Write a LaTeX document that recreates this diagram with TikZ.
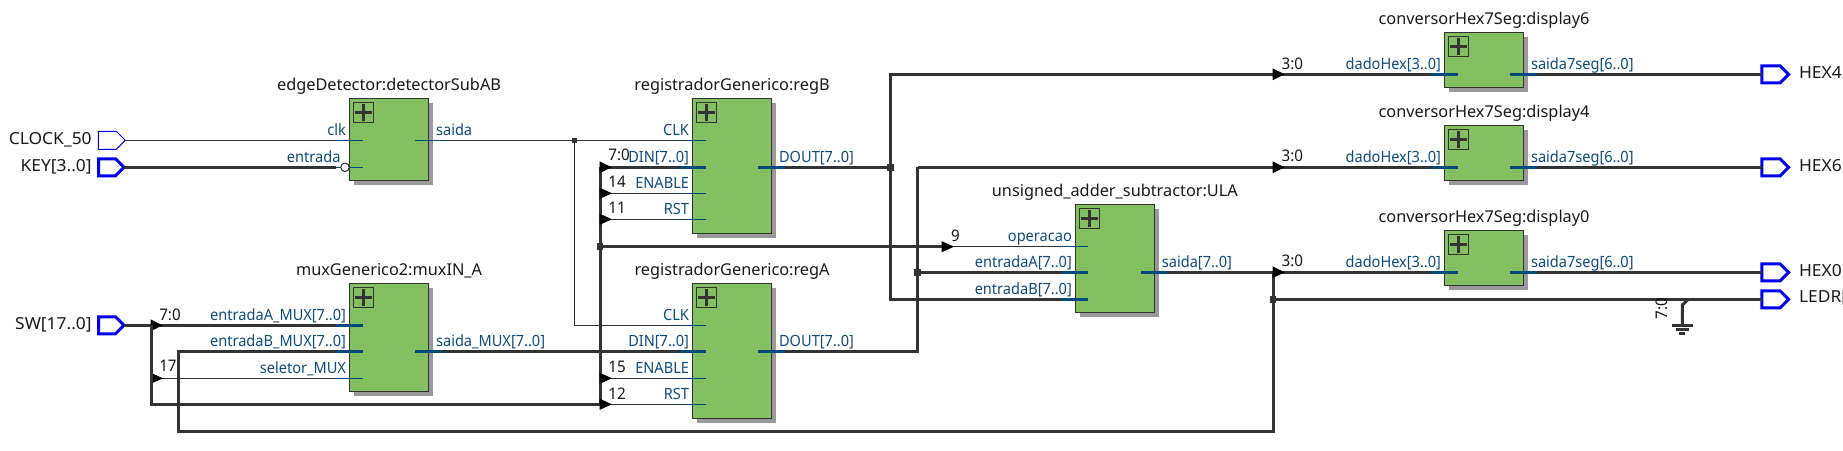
\documentclass[tikz,border=0pt]{standalone}
\usepackage{fontspec}
\setmainfont{Noto Sans}
\newfontfamily\portfont[FakeStretch=0.94]{Noto Sans}
\newfontfamily\bitfont[FakeStretch=0.95]{Noto Sans}
\newfontfamily\pinfont[FakeStretch=1.05]{Noto Sans}
\usetikzlibrary{positioning}
\usetikzlibrary{arrows.meta}
\usetikzlibrary{decorations.markings}
\usetikzlibrary{shapes.symbols}
\usetikzlibrary{shadows}
\definecolor{wirecol}{HTML}{333333}
\definecolor{stubcol}{HTML}{004A7C}
\definecolor{labelcol}{HTML}{0F4C7F}
\definecolor{blockcol}{HTML}{84C062}
\definecolor{pincol}{HTML}{0000F0}
\tikzstyle{block}=[draw=wirecol, fill=blockcol, line width=1pt, anchor=north west, minimum width=79.1pt, drop shadow={shadow xshift=4.5pt, shadow yshift=-4.5pt, fill=black!40, opacity=1}]
\tikzstyle{plusbox}=[draw=wirecol, line width=1pt, minimum size=20pt, path picture={\draw[wirecol, line width=3.2pt] (path picture bounding box.center) +(-8.5pt,0) -- +(8.5pt,0) +(0,-8.5pt) -- +(0,8.5pt);}]
\tikzstyle{inpin}=[shape=signal, draw=pincol, line width=3pt, minimum width=25.5pt, minimum height=17pt, anchor=east]
\tikzstyle{outpin}=[shape=signal, draw=pincol, line width=3pt, minimum width=26.8pt, minimum height=17pt, anchor=west]
\tikzstyle{clkpin}=[shape=signal, draw=pincol, line width=1pt, minimum width=27pt, minimum height=18pt, anchor=east]
\tikzstyle{bus}=[draw=wirecol, line width=3pt]
\tikzstyle{net}=[draw=wirecol, line width=1pt]
\tikzstyle{busstub}=[draw=stubcol, line width=3pt]
\tikzstyle{netstub}=[draw=stubcol, line width=1pt]
\tikzstyle{dot}=[fill=wirecol, minimum size=6.6pt]
\tikzstyle{smalldot}=[fill=wirecol, minimum size=4.6pt]
\tikzstyle{tipped}=[postaction={decorate}, decoration={markings, mark=at position 12pt with {\arrow[black]{Triangle[length=12.5pt 0 0, width=11pt 0 0]}}}]
\tikzstyle{title}=[text=black!90, font=\fontsize{16.3}{16.3}\selectfont]
\tikzstyle{portlab}=[text=labelcol, font=\portfont\fontsize{15.5}{15.5}\selectfont]
\tikzstyle{bit}=[text=black!90, font=\bitfont\fontsize{16}{16}\selectfont, anchor=base west]
\tikzstyle{pinlab}=[text=black!90, font=\pinfont\fontsize{16.6}{16.6}\selectfont]

\begin{document}
\begin{tikzpicture}[x=1pt, y=-1pt, inner sep=0pt, outer sep=0pt, text depth=0pt]
	\useasboundingbox (0,0) rectangle (1843,450);
	
	\node (detector) [block, minimum height=82pt] at (349.5,98.3) {};
	\node (muxA) [block, minimum height=108.4pt] at (349.5,283.3) {};
	\node (regB) [block, minimum height=135pt] at (692.5,98.3) {};
	\node (regA) [block, minimum height=135pt] at (692.5,283.3) {};
	\node (ula) [block, minimum height=108pt] at (1075.3,204.3) {};
	\node (disp6) [block, minimum height=55.4pt] at (1444.5,32.3) {};
	\node (disp4) [block, minimum height=55pt] at (1444.5,125.3) {};
	\node (disp0) [block, minimum height=55.4pt] at (1444.5,230.3) {};
	%
	\node (detectorplus) [plusbox, below right=4.5pt and 4.3pt of detector.north west] {};
	\node (muxAplus) [plusbox, below right=4.5pt and 4.3pt of muxA.north west] {};
	\node (regBplus) [plusbox, below right=4.5pt and 4.3pt of regB.north west] {};
	\node (regAplus) [plusbox, below right=4.5pt and 4.3pt of regA.north west] {};
	\node (ulaplus) [plusbox, below right=4.5pt and 4.3pt of ula.north west] {};
	\node (disp6plus) [plusbox, below right=4.5pt and 4.3pt of disp6.north west] {};
	\node (disp4plus) [plusbox, below right=4.5pt and 4.3pt of disp4.north west] {};
	\node (disp0plus) [plusbox, below right=4.5pt and 4.3pt of disp0.north west] {};
	
	\node (detectortitle) [title, above=8pt of detector] {edgeDetector:detectorSubAB};
	\node (muxAtitle) [title, above=8pt of muxA] {muxGenerico2:muxIN\_A};
	\node (regBtitle) [title, above=8pt of regB] {registradorGenerico:regB};
	\node (regAtitle) [title, above=8pt of regA] {registradorGenerico:regA};
	\node (ulatitle) [title, above=8pt of ula] {unsigned\_adder\_subtractor:ULA};
	\node (disp6title) [title, above=8pt of disp6] {conversorHex7Seg:display6};
	\node (disp4title) [title, above=8pt of disp4] {conversorHex7Seg:display4};
	\node (disp0title) [title, above=8pt of disp0] {conversorHex7Seg:display0};
	
	\coordinate (detclk) at (349.5,140.3);
	\coordinate (detent) at (349.5,167.3);
	\coordinate (detout) at (428.6,140.3);
	\coordinate (muxa) at (349.5,325.3);
	\coordinate (muxb) at (349.5,351.3);
	\coordinate (muxsel) at (349.5,378.3);
	\coordinate (muxout) at (428.6,351.3);
	\coordinate (regBclk) at (692.5,140.3);
	\coordinate (regBdin) at (692.5,167.3);
	\coordinate (regBen) at (692.5,193.3);
	\coordinate (regBrst) at (692.5,219.3);
	\coordinate (regBout) at (771.6,167.3);
	\coordinate (regAclk) at (692.5,325.3);
	\coordinate (regAdin) at (692.5,351.3);
	\coordinate (regAen) at (692.5,378.3);
	\coordinate (regArst) at (692.5,404.3);
	\coordinate (regAout) at (771.6,351.3);
	\coordinate (ulaop) at (1075.3,246.7);
	\coordinate (ulaa) at (1075.3,272.3);
	\coordinate (ulab) at (1075.3,299.3);
	\coordinate (ulaout) at (1154.4,272.3);
	\coordinate (d6in) at (1444.5,74.3);
	\coordinate (d6out) at (1523.5,74.3);
	\coordinate (d4in) at (1444.5,167.3);
	\coordinate (d4out) at (1523.5,167.3);
	\coordinate (d0in) at (1444.5,272.3);
	\coordinate (d0out) at (1523.5,272.3);
	%
	\coordinate (swbus) at (151,325.3);
	\coordinate (regbus) at (600,404.3);
	\coordinate (regtop) at (600,167.3);
	\coordinate (ulatap) at (942,246.7);
	\coordinate (d6tap) at (1273,74.3);
	\coordinate (d4tap) at (1273,167.3);
	\coordinate (d4corner) at (917.5,167.3);
	\coordinate (ulabus) at (1273,272.3);
	\coordinate (fbcorner) at (178.7,431);
	\coordinate (gndtap) at (1688.3,299.3);
	\coordinate (gndbend) at (1682.3,305);
	\coordinate (gndbar) at (1682.3,325);
	
	\node (clockpin) [clkpin] at (125.3,140.3) {};
	\node (keypin) [inpin] at (124,167.3) {};
	\node (swpin) [inpin] at (124,325.3) {};
	\node (hex4pin) [outpin] at (1761.8,74.3) {};
	\node (hex6pin) [outpin] at (1761.8,167.3) {};
	\node (hex0pin) [outpin] at (1761.8,272.3) {};
	\node (ledrpin) [outpin] at (1761.8,299.3) {};
	
	\node (clockj) [smalldot] at (574.5,140.3) {};
	\node (busj) [dot] at (600,246.7) {};
	\node (regBj) [dot] at (890.6,167.3) {};
	\node (regAj) [dot] at (917.5,272.3) {};
	\node (ledrj) [dot] at (1273,299.3) {};
	
	\draw[net] (clockpin.east) -- (detclk);
	\draw[bus, shorten >=9pt] (keypin.east) -- (345,167.3);
	\draw[net] (detout) -- (clockj);
	\draw[net] (clockj) -- (regBclk);
	\draw[net] (clockj) |- (regAclk);
	%
	\draw[bus] (swpin.east) -- (swbus);
	\draw[bus, tipped] (swbus) -- (muxa);
	\draw[net, tipped] (swbus |- muxsel) -- (muxsel);
	\draw[bus] (swbus) |- (regbus);
	\draw[bus] (regbus) -- (regtop);
	\draw[bus, tipped] (regtop) -- (regBdin);
	\draw[net, tipped] (regbus |- regBen) -- (regBen);
	\draw[net, tipped] (regbus |- regBrst) -- (regBrst);
	\draw[net, tipped] (regbus |- regAen) -- (regAen);
	\draw[net, tipped] (regbus) -- (regArst);
	\draw[bus] (busj) -- (ulatap);
	\draw[net, tipped] (ulatap) -- (ulaop);
	%
	\draw[bus] (muxout) -- (regAdin);
	\draw[bus] (muxb) -| (fbcorner) -| (ulabus);
	\draw[bus] (regBout) -- (regBj);
	\draw[bus] (regBj) |- (d6tap);
	\draw[bus] (regBj) |- (ulab);
	\draw[bus, tipped] (d6tap) -- (d6in);
	\draw[bus] (regAout) -| (d4corner);
	\draw[bus] (d4corner) -- (d4tap);
	\draw[bus, tipped] (d4tap) -- (d4in);
	\draw[bus] (regAj) -- (ulaa);
	\draw[bus] (ulaout) -- (ulabus);
	\draw[bus, tipped] (ulabus) -- (d0in);
	%
	\draw[bus] (d6out) -- (hex4pin.west);
	\draw[bus] (d4out) -- (hex6pin.west);
	\draw[bus] (d0out) -- (hex0pin.west);
	\draw[bus] (ledrj) -- (ledrpin.west);
	%
	\draw[netstub] (detclk) +(-13.5,0) -- +(13,0) (detent) +(-13.5,0) -- +(13,0) (detout) +(-13.5,0) -- +(13,0);
	\draw[netstub] (muxsel) +(-13.5,0) -- +(13,0);
	\draw[netstub] (regBclk) +(-13.5,0) -- +(13,0) (regBen) +(-13.5,0) -- +(13,0) (regBrst) +(-13.5,0) -- +(13,0);
	\draw[netstub] (regAclk) +(-13.5,0) -- +(13,0) (regAen) +(-13.5,0) -- +(13,0) (regArst) +(-13.5,0) -- +(13,0);
	\draw[netstub] (ulaop) +(-13.5,0) -- +(13,0);
	\draw[busstub] (muxa) +(-13.5,0) -- +(13,0) (muxb) +(-13.5,0) -- +(13,0) (muxout) +(-13.5,0) -- +(13,0);
	\draw[busstub] (regBdin) +(-13.5,0) -- +(13,0) (regBout) +(-13.5,0) -- +(13,0);
	\draw[busstub] (regAdin) +(-13.5,0) -- +(13,0) (regAout) +(-13.5,0) -- +(13,0);
	\draw[busstub] (ulaa) +(-13.5,0) -- +(13,0) (ulab) +(-13.5,0) -- +(13,0) (ulaout) +(-13.5,0) -- +(13,0);
	\draw[busstub] (d6in) +(-13.5,0) -- +(13,0) (d6out) +(-13.5,0) -- +(13,0);
	\draw[busstub] (d4in) +(-13.5,0) -- +(13,0) (d4out) +(-13.5,0) -- +(13,0);
	\draw[busstub] (d0in) +(-13.5,0) -- +(13,0) (d0out) +(-13.5,0) -- +(13,0);
	%
	\node (keybub) [draw=wirecol, fill=white, circle, line width=1pt, minimum size=8.5pt] at (345,167.3) {};
	
	\draw[bus] (gndtap) -- (gndbend) -- (gndbar);
	\draw[bus] (gndbar) +(-10.8,0) -- +(10.8,0);
	\draw[bus] (gndbar) ++(0,4.7) +(-6.3,0) -- +(6.3,0);
	\draw[bus] (gndbar) ++(0,8.7) +(-3,0) -- +(3,0);
	
	\node (detclklab) [portlab, above left=4.8pt and 3.5pt of detclk] {clk};
	\node (detentlab) [portlab, above left=4.8pt and 9pt of detent] {entrada};
	\node (detoutlab) [portlab, above right=4.8pt and 7.5pt of detout] {saida};
	\node (muxalab) [portlab, above left=4.8pt and 3.5pt of muxa] {entradaA\_MUX[7..0]};
	\node (muxblab) [portlab, above left=4.8pt and 3.5pt of muxb] {entradaB\_MUX[7..0]};
	\node (muxsellab) [portlab, above left=4.8pt and 3.5pt of muxsel] {seletor\_MUX};
	\node (muxoutlab) [portlab, above right=4.8pt and 7.5pt of muxout] {saida\_MUX[7..0]};
	\node (regBclklab) [portlab, above left=4.8pt and 3.5pt of regBclk] {CLK};
	\node (regBdinlab) [portlab, above left=4.8pt and 3.5pt of regBdin] {DIN[7..0]};
	\node (regBenlab) [portlab, above left=4.8pt and 3.5pt of regBen] {ENABLE};
	\node (regBrstlab) [portlab, above left=4.8pt and 3.5pt of regBrst] {RST};
	\node (regBoutlab) [portlab, above right=4.8pt and 7.5pt of regBout] {DOUT[7..0]};
	\node (regAclklab) [portlab, above left=4.8pt and 3.5pt of regAclk] {CLK};
	\node (regAdinlab) [portlab, above left=4.8pt and 3.5pt of regAdin] {DIN[7..0]};
	\node (regAenlab) [portlab, above left=4.8pt and 3.5pt of regAen] {ENABLE};
	\node (regArstlab) [portlab, above left=4.8pt and 3.5pt of regArst] {RST};
	\node (regAoutlab) [portlab, above right=4.8pt and 7.5pt of regAout] {DOUT[7..0]};
	\node (ulaoplab) [portlab, above left=4.8pt and 3.5pt of ulaop] {operacao};
	\node (ulaalab) [portlab, above left=4.8pt and 3.5pt of ulaa] {entradaA[7..0]};
	\node (ulablab) [portlab, above left=4.8pt and 3.5pt of ulab] {entradaB[7..0]};
	\node (ulaoutlab) [portlab, above right=4.8pt and 7.5pt of ulaout] {saida[7..0]};
	\node (d6inlab) [portlab, above left=4.8pt and 3.5pt of d6in] {dadoHex[3..0]};
	\node (d6outlab) [portlab, above right=4.8pt and 7.5pt of d6out] {saida7seg[6..0]};
	\node (d4inlab) [portlab, above left=4.8pt and 3.5pt of d4in] {dadoHex[3..0]};
	\node (d4outlab) [portlab, above right=4.8pt and 7.5pt of d4out] {saida7seg[6..0]};
	\node (d0inlab) [portlab, above left=4.8pt and 3.5pt of d0in] {dadoHex[3..0]};
	\node (d0outlab) [portlab, above right=4.8pt and 7.5pt of d0out] {saida7seg[6..0]};
	
	\node (swbit) [bit] at (159.3,320) {7:0};
	\node (selbit) [bit] at (159.3,371.7) {17};
	\node (dinbit) [bit] at (608.3,160.7) {7:0};
	\node (enBbit) [bit] at (608.3,187.3) {14};
	\node (rstBbit) [bit] at (608.3,213) {11};
	\node (enAbit) [bit] at (608.3,372.3) {15};
	\node (rstAbit) [bit] at (608.3,399) {12};
	\node (opbit) [bit] at (951,241) {9};
	\node (d6bit) [bit] at (1281.6,69) {3:0};
	\node (d4bit) [bit] at (1281.6,161.3) {3:0};
	\node (d0bit) [bit] at (1281.6,266.7) {3:0};
	\node (gndbit) [bit, rotate=90] at (1667.7,319) {7:0};
	
	\node (clocklab) [pinlab, anchor=base east] at (91.7,144) {CLOCK\_50};
	\node (keylab) [pinlab, anchor=base east] at (91.7,171) {KEY[3..0]};
	\node (swlab) [pinlab, anchor=base east] at (91.7,329.3) {SW[17..0]};
	\node (hex4lab) [pinlab, anchor=base west] at (1799,78.3) {HEX4};
	\node (hex6lab) [pinlab, anchor=base west] at (1799,171.7) {HEX6};
	\node (hex0lab) [pinlab, anchor=base west] at (1799,276) {HEX0};
	\node (ledrlab) [pinlab, anchor=base west] at (1799,302.7) {LEDR[};
\end{tikzpicture}
\end{document}
